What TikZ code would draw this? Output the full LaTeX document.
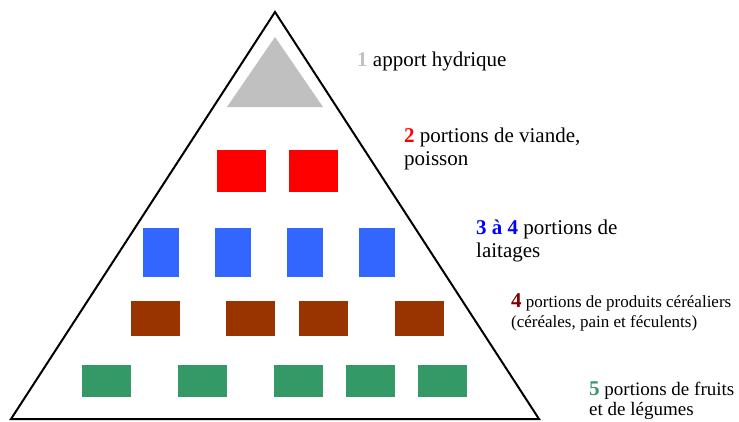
\documentclass[tikz,border=0pt]{standalone}
\usepackage{fontspec}
\setmainfont{Liberation Serif}
\definecolor{watergray}{HTML}{C0C0C0}
\definecolor{meatred}{HTML}{FF0000}
\definecolor{dairyblue}{HTML}{3366FF}
\definecolor{dairytext}{HTML}{0000FF}
\definecolor{grainbrown}{HTML}{993300}
\definecolor{graintext}{HTML}{800000}
\definecolor{fruitgreen}{HTML}{339966}
\tikzset{
  block/.style={fill=#1, draw=none},
  big/.style={font=\fontsize{21}{24}\selectfont, inner sep=0pt, anchor=base west},
  small/.style={font=\fontsize{17}{20}\selectfont, inner sep=0pt, anchor=base west},
  mid/.style={font=\fontsize{19}{21}\selectfont, inner sep=0pt, anchor=base west},
}
\begin{document}
\begin{tikzpicture}[x=1pt,y=-1pt]
\useasboundingbox (0,0) rectangle (739,421);
% pyramid outline
\draw[line width=2pt, line join=miter] (275,12) -- (11,419) -- (539,419) -- cycle;
% level 1: water
\fill[watergray] (275,37) -- (227,107) -- (323,107) -- cycle;
% level 2: meat, fish
\fill[block=meatred] (217,150) rectangle (266,192);
\fill[block=meatred] (289,150) rectangle (338,192);
% level 3: dairy
\foreach \x in {143,215,287,359}
  \fill[block=dairyblue] (\x,228) rectangle ++(36,49);
% level 4: cereals
\foreach \x in {131,226,299,395}
  \fill[block=grainbrown] (\x,301) rectangle ++(49,35);
% level 5: fruit and vegetables
\foreach \x in {82,178,274,346,418}
  \fill[block=fruitgreen] (\x,365) rectangle ++(49,32);
% captions
\node[big] (c1) at (357,66) {\textcolor{watergray}{\textbf{1}} apport hydrique};
\node[big] (c2a) at (404,142) {\textcolor{meatred}{\textbf{2}} portions de viande,};
\node[big] (c2b) at (404,165) {poisson};
\node[big] (c3a) at (476,234) {\textcolor{dairytext}{\textbf{3 à 4}} portions de};
\node[big] (c3b) at (476,257) {laitages};
\node[small] (c4a) at (511,307) {\textcolor{graintext}{\fontsize{21}{24}\selectfont\textbf{4}} portions de produits céréaliers};
\node[small] (c4b) at (511,327) {(céréales, pain et féculents)};
\node[mid] (c5a) at (589,395) {\textcolor{fruitgreen}{\fontsize{21}{24}\selectfont\textbf{5}} portions de fruits};
\node[mid] (c5b) at (589,415) {et de légumes};
\end{tikzpicture}
\end{document}
